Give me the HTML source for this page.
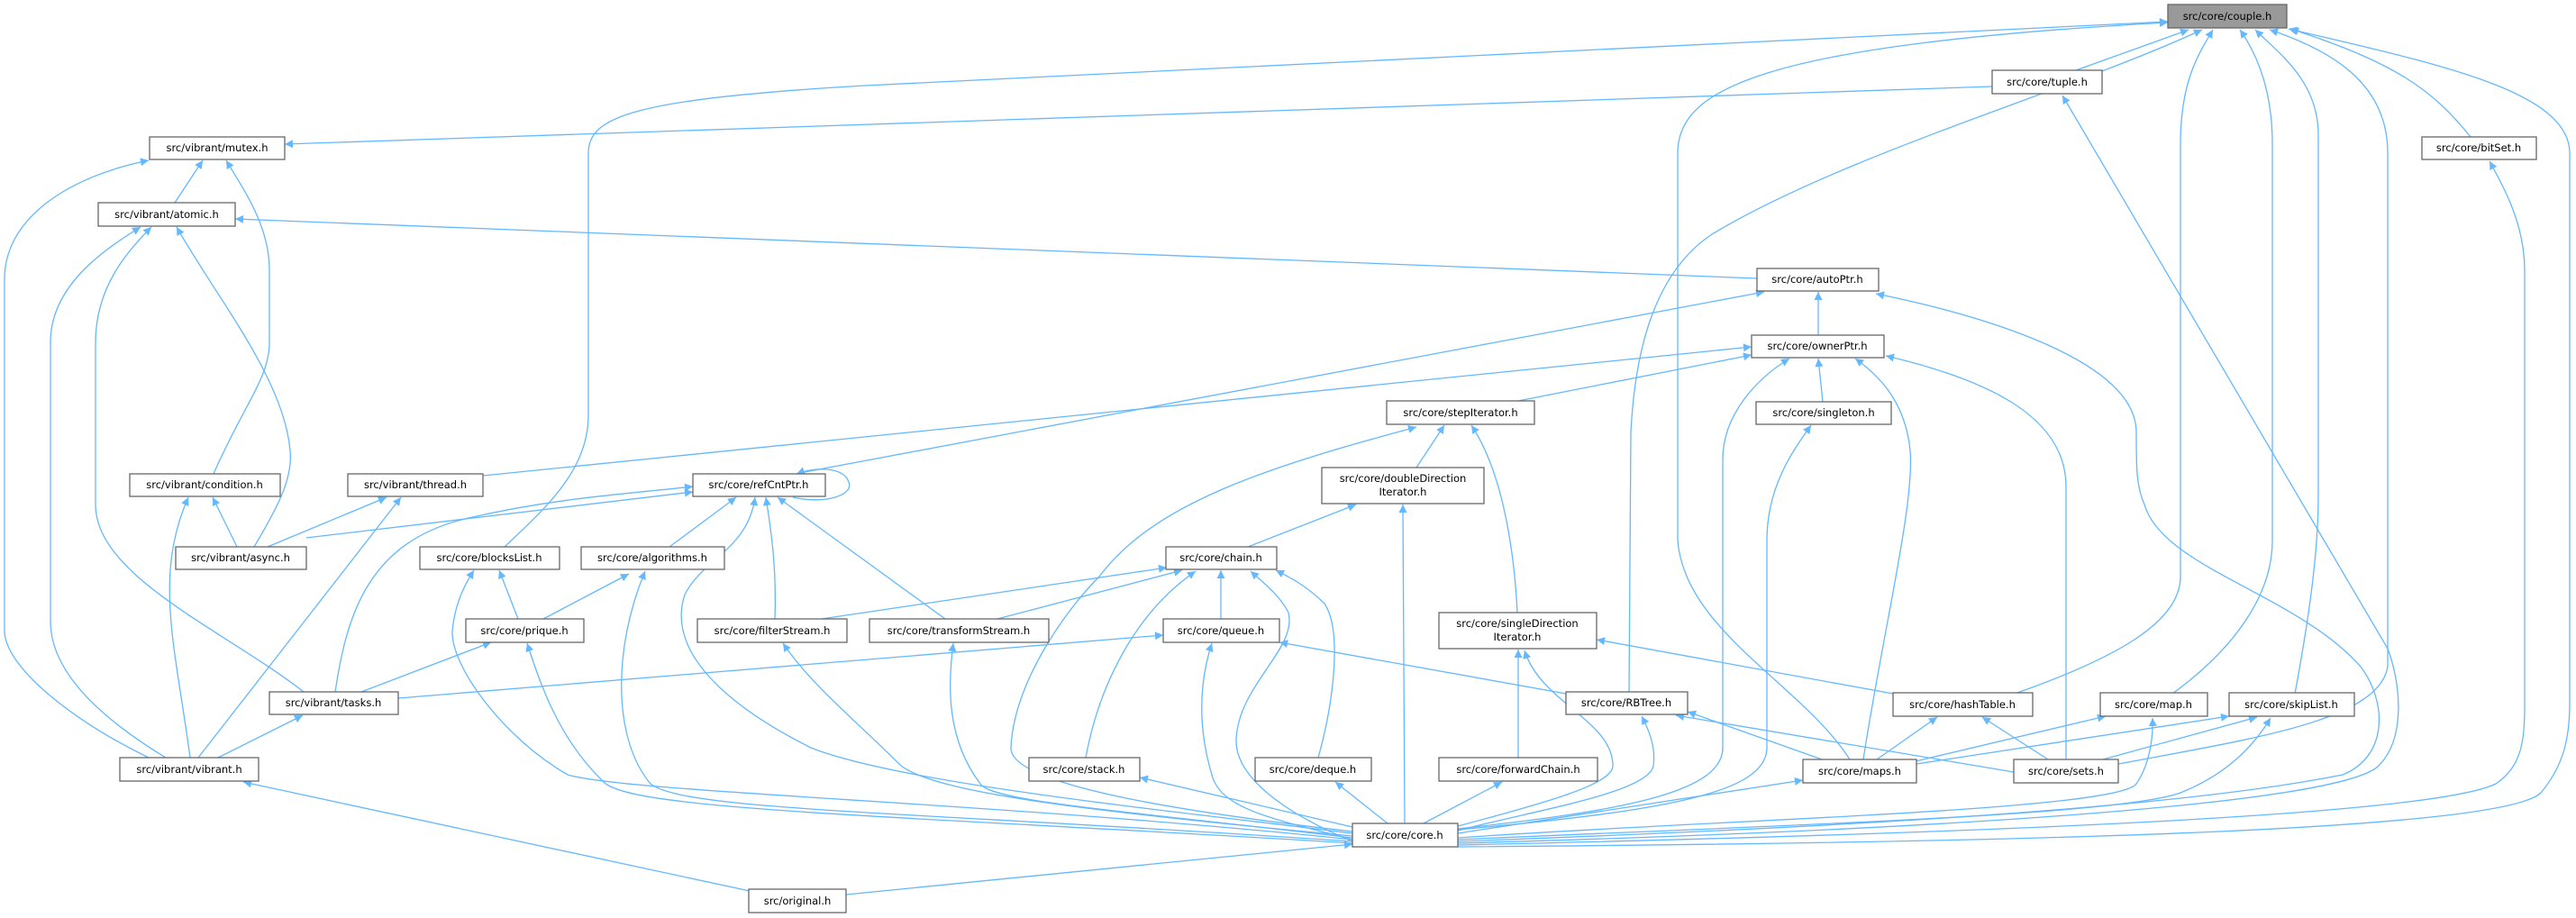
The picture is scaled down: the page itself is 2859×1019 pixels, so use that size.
<!DOCTYPE html>
<html><head><meta charset="utf-8"><style>
html,body{margin:0;padding:0;background:#fff;}
svg{display:block;}
.e{fill:none;stroke:#63b8ff;stroke-width:1.3;marker-end:url(#a);}
.n{fill:#fff;stroke:#666;stroke-width:1.3;}
text{font-family:"DejaVu Sans","Liberation Sans",sans-serif;font-size:11.5px;fill:#000;text-anchor:middle;}
</style></head><body>
<svg width="2859" height="1019" viewBox="0 0 2859 1019" xmlns="http://www.w3.org/2000/svg">
<defs><marker id="a" viewBox="0 0 10 10" refX="10" refY="5" markerUnits="userSpaceOnUse" markerWidth="12" markerHeight="9" orient="auto"><path d="M0,0 L10,5 L0,10 z" fill="#63b8ff"/></marker></defs>
<g>
<path class="e" d="M2304,78 L2429,33"/>
<path class="e" d="M2211,96 L316,160"/>
<path class="e" d="M165,841 C80,800 5,740 5,700 L5,310 C5,240 80,195 165,178"/>
<path class="e" d="M194,225 L225,178"/>
<path class="e" d="M237,526 C270,450 299,420 299,380 L299,300 C299,250 270,210 251,178"/>
<path class="e" d="M1950,309 L261,243"/>
<path class="e" d="M184,841 C100,790 56,740 56,690 L56,380 C56,320 110,280 156,252"/>
<path class="e" d="M337,768 C250,700 106,640 106,560 L106,380 C106,320 140,280 168,252"/>
<path class="e" d="M282,607 C310,560 325,530 322,500 C315,420 240,330 196,252"/>
<path class="e" d="M263,607 L236,552"/>
<path class="e" d="M211,841 C195,720 170,640 209,552"/>
<path class="e" d="M297,607 L429,552"/>
<path class="e" d="M220,841 L445,552"/>
<path class="e" d="M536,528 L1944,385"/>
<path class="e" d="M340,597 L769,546"/>
<path class="e" d="M372,768 C385,680 410,600 520,575 C620,552 700,548 769,540"/>
<path class="e" d="M880,552 C915,560 948,550 942,535 C936,518 905,518 884,526"/>
<path class="e" d="M743,607 L817,552"/>
<path class="e" d="M1501,925 C1300,900 1000,870 900,830 C800,780 740,720 760,660 C780,620 830,610 838,552"/>
<path class="e" d="M860,687 C862,630 856,590 850,552"/>
<path class="e" d="M1049,687 L863,552"/>
<path class="e" d="M893,524 L1958,324"/>
<path class="e" d="M560,607 C610,560 653,520 653,460 L653,170 C653,130 700,110 960,95 L2406,24"/>
<path class="e" d="M575,687 L554,633"/>
<path class="e" d="M1501,932 C1100,890 700,880 630,860 C560,820 500,740 502,700 C505,670 515,650 526,633"/>
<path class="e" d="M603,687 L698,637"/>
<path class="e" d="M1501,934 C1000,900 760,900 722,870 C680,820 680,720 716,634"/>
<path class="e" d="M401,768 L545,713"/>
<path class="e" d="M1501,936 C1000,905 700,900 670,868 C620,820 600,760 585,714"/>
<path class="e" d="M242,841 L336,794"/>
<path class="e" d="M442,775 L1291,705"/>
<path class="e" d="M832,989 L270,868"/>
<path class="e" d="M939,993 L1501,937"/>
<path class="e" d="M912,687 L1295,630"/>
<path class="e" d="M1501,928 C1200,900 1040,880 1000,850 C950,800 900,760 869,714"/>
<path class="e" d="M1107,687 L1312,633"/>
<path class="e" d="M1501,930 C1250,900 1100,890 1088,870 C1050,820 1052,760 1058,714"/>
<path class="e" d="M1385,607 L1505,560"/>
<path class="e" d="M1355,687 L1355,633"/>
<path class="e" d="M1205,841 C1220,760 1260,680 1327,634"/>
<path class="e" d="M1463,841 C1480,780 1490,700 1470,670 C1450,650 1430,640 1416,633"/>
<path class="e" d="M1501,934 C1420,900 1370,860 1372,820 C1375,760 1440,720 1430,680 C1420,660 1400,645 1388,634"/>
<path class="e" d="M1501,932 C1420,910 1355,900 1345,860 C1330,810 1330,760 1345,714"/>
<path class="e" d="M1738,770 L1420,713"/>
<path class="e" d="M1559,914 L1557,560"/>
<path class="e" d="M1572,519 L1603,472"/>
<path class="e" d="M1684,680 C1680,600 1665,520 1633,472"/>
<path class="e" d="M1501,923 C1300,900 1120,870 1122,830 C1125,760 1180,680 1220,640 C1280,560 1400,520 1572,474"/>
<path class="e" d="M1685,445 L1944,394"/>
<path class="e" d="M1685,841 L1685,721"/>
<path class="e" d="M1618,917 C1720,890 1790,870 1790,850 C1790,800 1710,780 1692,722"/>
<path class="e" d="M2101,770 L1772,710"/>
<path class="e" d="M1808,768 L1810,480 C1815,380 1840,300 1900,260 C2050,170 2300,100 2444,33"/>
<path class="e" d="M1618,922 C1700,900 1830,880 1835,850 C1838,830 1830,810 1822,795"/>
<path class="e" d="M2022,843 L1873,790"/>
<path class="e" d="M2235,857 L1860,794"/>
<path class="e" d="M1501,918 L1265,863"/>
<path class="e" d="M1540,914 L1482,868"/>
<path class="e" d="M1580,914 L1667,868"/>
<path class="e" d="M1618,925 L2001,866"/>
<path class="e" d="M2053,843 C2000,760 1870,700 1862,600 L1862,170 C1862,100 1950,50 2406,25"/>
<path class="e" d="M2068,843 C2090,700 2125,560 2120,500 C2115,450 2090,420 2059,398"/>
<path class="e" d="M2083,843 L2150,796"/>
<path class="e" d="M2126,845 L2337,795"/>
<path class="e" d="M2127,848 L2474,795"/>
<path class="e" d="M2273,843 L2200,796"/>
<path class="e" d="M2334,843 L2505,796"/>
<path class="e" d="M2293,843 L2293,540 C2293,460 2200,420 2093,395"/>
<path class="e" d="M2351,848 C2500,820 2640,800 2650,740 L2650,170 C2650,100 2600,60 2519,33"/>
<path class="e" d="M2236,770 C2350,730 2420,690 2420,640 L2420,160 C2420,90 2440,60 2456,33"/>
<path class="e" d="M2411,770 C2480,720 2522,660 2522,600 L2522,160 C2522,100 2505,60 2486,33"/>
<path class="e" d="M2547,770 C2560,700 2573,620 2573,550 L2573,150 C2573,90 2530,60 2503,33"/>
<path class="e" d="M1618,930 C1900,910 2350,900 2371,870 C2385,850 2390,820 2389,797"/>
<path class="e" d="M1618,932 C2000,915 2350,905 2420,880 C2470,860 2500,830 2520,797"/>
<path class="e" d="M1618,934 C2000,920 2400,900 2600,860 C2650,840 2650,780 2620,740 C2550,660 2400,630 2380,560 C2371,540 2371,520 2371,480 C2371,400 2200,350 2082,326"/>
<path class="e" d="M1618,920 C1800,900 1912,880 1912,830 L1912,510 C1912,460 1950,420 1986,398"/>
<path class="e" d="M1618,921 C1850,900 1961,880 1961,830 L1961,600 C1961,540 1990,500 2010,472"/>
<path class="e" d="M2023,446 L2018,398"/>
<path class="e" d="M2018,372 L2018,324"/>
<path class="e" d="M1618,936 C2200,920 2600,890 2640,850 C2670,820 2665,760 2650,720 L2289,106"/>
<path class="e" d="M1618,938 C2200,925 2700,905 2770,870 C2800,850 2802,820 2802,780 L2802,300 C2802,250 2780,210 2763,179"/>
<path class="e" d="M1618,940 C2300,935 2780,920 2820,880 C2845,850 2852,820 2852,780 L2852,170 C2852,100 2700,70 2540,32"/>
<path class="e" d="M2742,152 C2700,100 2660,70 2542,32"/>
</g>
<g>
<rect x="2406" y="5" width="132" height="26" fill="#999" stroke="#666" stroke-width="1.3"/><text x="2472" y="22">src/core/couple.h</text>
<rect class="n" x="2211" y="78" width="122" height="26"/><text x="2272" y="95">src/core/tuple.h</text>
<rect class="n" x="166" y="152" width="150" height="25"/><text x="241" y="168">src/vibrant/mutex.h</text>
<rect class="n" x="2688" y="152" width="127" height="25"/><text x="2751" y="168">src/core/bitSet.h</text>
<rect class="n" x="109" y="225" width="152" height="26"/><text x="185" y="242">src/vibrant/atomic.h</text>
<rect class="n" x="1950" y="298" width="135" height="25"/><text x="2017" y="314">src/core/autoPtr.h</text>
<rect class="n" x="1944" y="372" width="147" height="25"/><text x="2017" y="388">src/core/ownerPtr.h</text>
<rect class="n" x="1539" y="445" width="164" height="26"/><text x="1621" y="462">src/core/stepIterator.h</text>
<rect class="n" x="1949" y="446" width="150" height="25"/><text x="2024" y="462">src/core/singleton.h</text>
<rect class="n" x="144" y="526" width="167" height="25"/><text x="227" y="542">src/vibrant/condition.h</text>
<rect class="n" x="386" y="526" width="150" height="25"/><text x="461" y="542">src/vibrant/thread.h</text>
<rect class="n" x="769" y="526" width="147" height="25"/><text x="842" y="542">src/core/refCntPtr.h</text>
<rect class="n" x="1467" y="519" width="180" height="40"/><text x="1557" y="535">src/core/doubleDirection</text><text x="1557" y="550">Iterator.h</text>
<rect class="n" x="195" y="607" width="145" height="25"/><text x="267" y="623">src/vibrant/async.h</text>
<rect class="n" x="466" y="607" width="155" height="25"/><text x="543" y="623">src/core/blocksList.h</text>
<rect class="n" x="645" y="607" width="159" height="25"/><text x="724" y="623">src/core/algorithms.h</text>
<rect class="n" x="1294" y="607" width="123" height="25"/><text x="1355" y="623">src/core/chain.h</text>
<rect class="n" x="517" y="687" width="131" height="26"/><text x="582" y="704">src/core/prique.h</text>
<rect class="n" x="774" y="687" width="166" height="26"/><text x="857" y="704">src/core/filterStream.h</text>
<rect class="n" x="965" y="687" width="199" height="26"/><text x="1064" y="704">src/core/transformStream.h</text>
<rect class="n" x="1291" y="687" width="129" height="26"/><text x="1355" y="704">src/core/queue.h</text>
<rect class="n" x="1597" y="680" width="175" height="40"/><text x="1684" y="696">src/core/singleDirection</text><text x="1684" y="711">Iterator.h</text>
<rect class="n" x="299" y="768" width="143" height="25"/><text x="370" y="784">src/vibrant/tasks.h</text>
<rect class="n" x="1738" y="768" width="135" height="25"/><text x="1805" y="784">src/core/RBTree.h</text>
<rect class="n" x="2101" y="769" width="155" height="26"/><text x="2178" y="786">src/core/hashTable.h</text>
<rect class="n" x="2331" y="769" width="119" height="26"/><text x="2390" y="786">src/core/map.h</text>
<rect class="n" x="2474" y="769" width="139" height="26"/><text x="2543" y="786">src/core/skipList.h</text>
<rect class="n" x="133" y="841" width="154" height="26"/><text x="210" y="858">src/vibrant/vibrant.h</text>
<rect class="n" x="1142" y="841" width="123" height="26"/><text x="1203" y="858">src/core/stack.h</text>
<rect class="n" x="1393" y="841" width="129" height="26"/><text x="1457" y="858">src/core/deque.h</text>
<rect class="n" x="1597" y="841" width="176" height="26"/><text x="1685" y="858">src/core/forwardChain.h</text>
<rect class="n" x="2001" y="843" width="126" height="26"/><text x="2064" y="860">src/core/maps.h</text>
<rect class="n" x="2235" y="843" width="116" height="26"/><text x="2293" y="860">src/core/sets.h</text>
<rect class="n" x="1501" y="914" width="117" height="26"/><text x="1559" y="931">src/core/core.h</text>
<rect class="n" x="831" y="987" width="108" height="26"/><text x="885" y="1004">src/original.h</text>
</g>
</svg>
</body></html>
